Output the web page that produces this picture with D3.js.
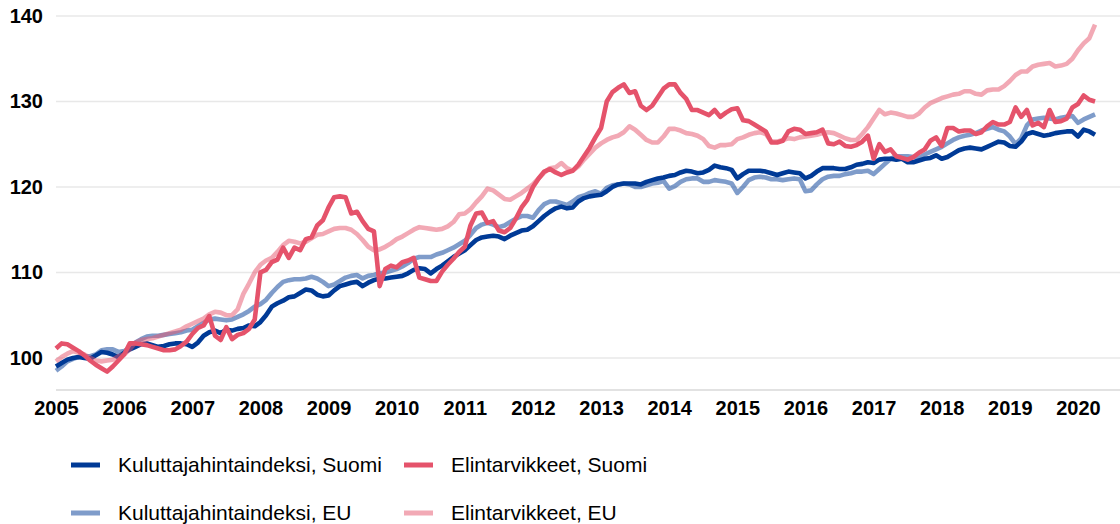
<!DOCTYPE html>
<html><head><meta charset="utf-8">
<script src="https://cdn.jsdelivr.net/npm/d3@7"></script>
<style>
html,body{margin:0;padding:0;background:#fff;}
svg{display:block;font-family:"Liberation Sans",Arial,sans-serif;}
</style></head>
<body><svg id="c" width="1120" height="524"></svg>
<script>
const years = [2005,2006,2007,2008,2009,2010,2011,2012,2013,2014,2015,2016,2017,2018,2019,2020];
const yTicks = [100,110,120,130,140];
const seriesNames = ["Kuluttajahintaindeksi, Suomi","Elintarvikkeet, Suomi","Kuluttajahintaindeksi, EU","Elintarvikkeet, EU"];

// monthly values, Jan 2005 – Apr 2020
const khiSuomi = [
99.0,99.4,99.8,100.0,100.1,100.0,99.9,100.3,100.7,100.6,100.4,100.1,
100.6,101.0,101.3,101.6,101.7,101.5,101.3,101.4,101.6,101.7,101.7,101.6,
101.3,101.8,102.6,103.0,103.2,102.9,103.3,103.2,103.4,103.5,103.8,103.7,
104.2,105.0,106.0,106.4,106.7,107.1,107.2,107.6,108.0,107.9,107.4,107.2,
107.3,107.9,108.4,108.6,108.8,108.9,108.4,108.8,109.1,109.3,109.3,109.4,
109.5,109.6,109.9,110.3,110.5,110.4,109.9,110.4,110.8,111.3,111.8,112.2,
112.6,113.2,113.8,114.1,114.2,114.3,114.2,113.9,114.3,114.6,114.9,115.0,
115.4,116.0,116.6,117.1,117.5,117.7,117.5,117.6,118.3,118.7,118.9,119.0,
119.1,119.5,120.0,120.3,120.4,120.4,120.4,120.3,120.6,120.8,121.0,121.1,
121.3,121.4,121.7,121.9,121.8,121.6,121.7,122.0,122.5,122.3,122.2,122.0,
121.0,121.5,121.9,121.9,121.9,121.8,121.6,121.4,121.6,121.8,121.7,121.6,
121.0,121.3,121.8,122.2,122.2,122.2,122.1,122.1,122.3,122.6,122.7,122.9,
122.8,123.2,123.3,123.3,123.2,123.3,122.9,122.9,123.1,123.3,123.4,123.7,
123.3,123.5,123.9,124.3,124.5,124.6,124.5,124.4,124.7,125.0,125.3,125.2,
124.8,124.7,125.3,126.2,126.4,126.2,126.0,126.1,126.3,126.4,126.5,126.5,
125.9,126.7,126.5,126.1];

const elintSuomi = [
101.1,101.7,101.6,101.2,100.8,100.3,99.7,99.2,98.8,98.4,99.0,99.7,
100.4,101.7,101.7,101.6,101.5,101.3,101.1,100.9,100.9,101.0,101.4,101.9,
102.8,103.5,103.8,104.9,102.6,102.1,103.6,102.2,102.7,102.9,103.4,104.5,
110.0,110.3,111.2,111.5,112.9,111.7,112.9,112.6,113.9,114.1,115.5,116.1,
117.6,118.8,118.9,118.8,116.9,117.1,116.0,115.1,114.8,108.4,110.4,110.8,
110.6,111.2,111.4,111.7,109.4,109.2,109.0,109.0,110.1,110.9,111.6,112.4,
113.0,115.5,116.9,117.0,115.8,116.0,114.9,114.7,115.2,116.3,117.6,118.5,
120.0,121.0,121.8,122.1,121.7,121.4,121.7,121.9,122.6,123.6,124.6,125.8,
126.9,130.0,131.1,131.6,132.0,131.0,131.2,129.5,129.0,129.5,130.5,131.5,
132.0,132.0,131.0,130.3,129.0,129.0,128.7,128.4,129.0,128.2,128.7,129.1,
129.2,127.8,127.7,127.3,126.9,126.5,125.2,125.2,125.4,126.5,126.8,126.7,
126.2,126.3,126.4,126.7,125.1,125.0,125.3,124.8,124.7,124.9,125.3,126.0,
123.3,125.0,124.1,124.4,123.6,123.4,123.2,123.5,124.0,124.4,125.4,125.8,
124.8,126.9,126.9,126.5,126.6,126.6,126.2,126.4,127.1,127.6,127.3,127.3,
127.6,129.3,128.2,129.0,127.2,127.5,127.0,129.0,127.6,127.7,128.0,129.3,
129.7,130.7,130.2,130.0];

const khiEU = [
98.5,99.0,99.6,99.9,100.1,100.2,100.2,100.4,100.9,101.0,101.0,100.7,
100.8,101.2,101.8,102.2,102.5,102.6,102.6,102.7,102.8,102.9,103.0,103.2,
103.3,103.7,104.1,104.5,104.6,104.5,104.4,104.5,104.8,105.1,105.5,106.0,
106.3,106.8,107.6,108.3,108.9,109.1,109.2,109.2,109.3,109.5,109.3,108.9,
108.4,108.6,109.0,109.4,109.6,109.7,109.3,109.6,109.7,109.9,110.0,110.2,
110.4,110.7,111.1,111.6,111.8,111.8,111.8,112.1,112.3,112.6,112.9,113.3,
113.7,114.4,115.2,115.6,115.8,115.6,115.3,115.5,115.9,116.3,116.6,116.6,
116.4,117.3,118.0,118.3,118.3,118.1,117.9,118.3,118.8,119.0,119.3,119.5,
119.2,119.9,120.2,120.3,120.4,120.3,120.0,120.0,120.2,120.4,120.5,120.7,
119.8,120.1,120.6,120.9,121.0,121.0,120.6,120.6,120.8,120.7,120.6,120.4,
119.3,120.0,120.8,121.1,121.2,121.1,120.9,120.9,120.8,120.9,121.0,120.9,
119.5,119.6,120.3,120.9,121.2,121.3,121.3,121.5,121.6,121.8,121.8,121.9,
121.5,122.1,122.7,123.3,123.6,123.6,123.6,123.5,123.4,123.8,124.1,124.4,
124.7,125.1,125.5,125.8,126.0,126.1,126.3,126.6,126.8,127.0,126.7,126.5,
125.9,125.0,125.7,127.2,127.9,128.0,128.1,128.0,127.9,128.1,128.2,128.3,
127.5,127.9,128.2,128.5];

const elintEU = [
99.6,100.1,100.5,100.8,100.6,100.4,100.0,99.7,99.6,99.7,99.8,100.2,
100.4,101.0,101.8,102.1,102.2,102.3,102.5,102.7,102.9,103.1,103.3,103.7,
104.0,104.3,104.6,105.1,105.4,105.3,105.0,105.0,105.7,107.5,108.7,110.0,
110.9,111.4,111.7,112.4,113.2,113.7,113.6,113.4,113.6,114.0,114.4,114.5,
114.8,115.1,115.2,115.2,115.0,114.5,113.8,113.0,112.6,112.7,113.0,113.4,
113.9,114.2,114.6,115.0,115.3,115.2,115.1,115.0,115.1,115.4,115.9,116.8,
116.9,117.4,118.2,118.9,119.8,119.6,119.1,118.6,118.5,118.9,119.3,119.8,
120.3,121.0,121.7,122.2,122.3,122.8,122.2,121.9,122.4,123.2,123.9,124.6,
125.1,125.5,125.8,126.0,126.4,127.1,126.7,126.1,125.5,125.2,125.2,125.9,
126.8,126.8,126.6,126.3,126.2,126.0,125.6,124.8,124.6,124.9,124.9,125.0,
125.6,125.8,126.1,126.3,126.4,126.2,125.3,125.3,125.5,125.7,125.6,125.8,
125.9,126.0,126.1,126.3,126.4,126.3,126.0,125.7,125.5,125.5,126.2,127.0,
128.0,129.0,128.5,128.7,128.6,128.4,128.2,128.2,128.6,129.3,129.8,130.1,
130.4,130.6,130.8,130.9,131.2,131.2,130.9,130.8,131.3,131.4,131.4,131.8,
132.4,133.1,133.5,133.5,134.1,134.3,134.4,134.5,134.1,134.2,134.4,135.0,
136.0,136.8,137.4,139.0];

const BLUE = "#003A96", RED = "#E5536B";
const series = [
  {name: seriesNames[0], values: khiSuomi, color: BLUE, op: 1},
  {name: seriesNames[2], values: khiEU, color: BLUE, op: 0.5},
  {name: seriesNames[1], values: elintSuomi, color: RED, op: 1},
  {name: seriesNames[3], values: elintEU, color: RED, op: 0.5}
];

const svg = d3.select("#c");
const x = d3.scaleLinear().domain([2005, 2020]).range([56, 1078]);
const y = d3.scaleLinear().domain([96.25, 140]).range([390, 16]);
const t = i => 2005 + i / 12;

// gridlines
svg.append("g").selectAll("line").data(yTicks).join("line")
  .attr("x1", 56).attr("x2", 1120)
  .attr("y1", d => y(d)).attr("y2", d => y(d))
  .attr("stroke", "#E8E8E8").attr("stroke-width", 1.5);

// bottom axis line
svg.append("line").attr("x1", 56).attr("x2", 1120).attr("y1", 390).attr("y2", 390)
  .attr("stroke", "#D9D9D9").attr("stroke-width", 1.5);

// y labels
const yAxis = d3.axisLeft(y).tickValues(yTicks).tickSize(0).tickPadding(0);
const gy = svg.append("g").attr("transform", "translate(43,0)").call(yAxis);
gy.select(".domain").remove();
gy.selectAll("text").attr("font-size", 20).attr("font-weight", "bold")
  .attr("fill", "#000").attr("font-family", "Liberation Sans, Arial, sans-serif");

// x labels
const xAxis = d3.axisBottom(x).tickValues(years).tickFormat(d3.format("d")).tickSize(0).tickPadding(0);
const gx = svg.append("g").attr("transform", "translate(0,401)").call(xAxis);
gx.select(".domain").remove();
gx.selectAll("text").attr("font-size", 20).attr("font-weight", "bold")
  .attr("fill", "#000").attr("font-family", "Liberation Sans, Arial, sans-serif");

// lines
const line = d3.line().x((d, i) => x(t(i))).y(d => y(d)).curve(d3.curveLinear);
svg.append("g").selectAll("path").data(series).join("path")
  .attr("d", d => line(d.values))
  .attr("fill", "none").attr("stroke", d => d.color).attr("stroke-opacity", d => d.op)
  .attr("stroke-width", 4.6).attr("stroke-linejoin", "round").attr("stroke-linecap", "butt");

// legend
const legendItems = [
  {name: seriesNames[0], color: BLUE, op: 1, lx: 71, ly: 465},
  {name: seriesNames[1], color: RED, op: 1, lx: 404, ly: 465},
  {name: seriesNames[2], color: BLUE, op: 0.5, lx: 71, ly: 513},
  {name: seriesNames[3], color: RED, op: 0.5, lx: 404, ly: 513}
];
const lg = svg.append("g").selectAll("g").data(legendItems).join("g")
  .attr("transform", d => `translate(${d.lx},${d.ly})`);
lg.append("line").attr("x1", 0).attr("x2", 29).attr("y1", 0).attr("y2", 0)
  .attr("stroke", d => d.color).attr("stroke-opacity", d => d.op).attr("stroke-width", 5);
lg.append("text").attr("x", 47).attr("y", 0).attr("dy", "0.35em")
  .attr("font-size", 21).attr("fill", "#000").text(d => d.name);
</script></body></html>
